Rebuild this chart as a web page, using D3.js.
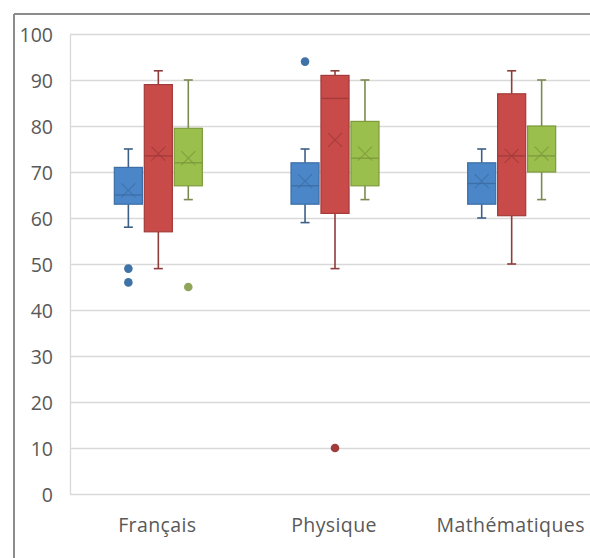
<!DOCTYPE html>
<html><head><meta charset="utf-8">
<script src="https://cdn.jsdelivr.net/npm/d3@7"></script>
<style>
html,body{margin:0;padding:0;background:#fff;}
svg{display:block;}
text{font-family:"Open Sans","Noto Sans",sans-serif;fill:#595959;}
</style></head>
<body>
<svg id="c" width="590" height="558"></svg>
<script>
const categories = ["Français", "Physique", "Mathématiques"];
const seriesNames = ["S1", "S2", "S3"];
// per series: [category] -> stats
const whiskerLow  = [[58, 59, 60], [49, 49, 50], [64, 64, 64]];
const q1Values    = [[63, 63, 63], [57, 61, 60.5], [67, 67, 70]];
const medians     = [[65, 67, 67.5], [73.5, 86, 73.5], [72, 73, 73.5]];
const q3Values    = [[71, 72, 72], [89, 91, 87], [79.5, 81, 80]];
const whiskerHigh = [[75, 75, 75], [92, 92, 92], [90, 90, 90]];
const means       = [[66, 68, 68], [74, 77, 73.5], [73, 74, 74]];
const outliers    = [[[49, 46], [94], []], [[], [10], []], [[45], [], []]];
const yTicks = [0, 10, 20, 30, 40, 50, 60, 70, 80, 90, 100];

const fills   = ["#4a86c8", "#c84b49", "#9bbf4c"];
const strokes = ["#3d6fa6", "#a23b39", "#7d9a3c"];
const whiskC  = ["#3e5f86", "#8e3d3b", "#7b8a52"];
const dotC    = ["#3f72a6", "#a03c3c", "#8fa65a"];

const svg = d3.select("#c");
// outer border
svg.append("line").attr("x1",14).attr("x2",590).attr("y1",14).attr("y2",14).attr("stroke","#8c8c8c").attr("stroke-width",2);
svg.append("line").attr("x1",14).attr("x2",14).attr("y1",14).attr("y2",558).attr("stroke","#8c8c8c").attr("stroke-width",2);

const y = d3.scaleLinear().domain([0,100]).range([494,34]);
const x = d3.scaleBand().domain(categories).range([70,600]).paddingInner(0).paddingOuter(0);
const sub = d3.scaleBand().domain(seriesNames).range([0, 89]).paddingInner(0.03);
const groupOffset = (x.bandwidth() - 89) / 2;

// gridlines
svg.append("g").selectAll("line").data(yTicks).join("line")
  .attr("x1",70).attr("x2",600).attr("y1",d=>y(d)+0.5).attr("y2",d=>y(d)+0.5)
  .attr("stroke","#d9d9d9").attr("stroke-width",1.3);
svg.append("line").attr("x1",70.5).attr("x2",70.5).attr("y1",y(100)).attr("y2",y(0)).attr("stroke","#d9d9d9").attr("stroke-width",1.3);

// y axis labels
const yAxis = d3.axisLeft(y).tickValues(yTicks).tickSize(0).tickPadding(0);
const ya = svg.append("g").attr("transform","translate(53,1)").call(yAxis);
ya.select(".domain").remove();
ya.selectAll("text").attr("font-size",19.5).style("fill","#595959").attr("font-family","Open Sans, Noto Sans, sans-serif").attr("dy","0.35em");

// x axis labels
const xAxis = d3.axisBottom(x).tickSize(0).tickPadding(0);
const xa = svg.append("g").attr("transform","translate(-1,518)").call(xAxis);
xa.select(".domain").remove();
xa.selectAll("text").attr("font-size",19.5).style("fill","#595959").style("letter-spacing","0.4px").attr("font-family","Open Sans, Noto Sans, sans-serif");

const g = svg.append("g");
seriesNames.forEach((s, si) => {
  categories.forEach((c, ci) => {
    const x0 = x(c) + groupOffset + sub(s);
    const w = sub.bandwidth();
    const cx = x0 + w/2;
    // whiskers
    g.append("line").attr("x1",cx).attr("x2",cx).attr("y1",y(whiskerHigh[si][ci])).attr("y2",y(q3Values[si][ci])).attr("stroke",whiskC[si]).attr("stroke-width",1.6);
    g.append("line").attr("x1",cx).attr("x2",cx).attr("y1",y(q1Values[si][ci])).attr("y2",y(whiskerLow[si][ci])).attr("stroke",whiskC[si]).attr("stroke-width",1.6);
    [whiskerHigh[si][ci], whiskerLow[si][ci]].forEach(v => {
      g.append("line").attr("x1",cx-4.5).attr("x2",cx+4.5).attr("y1",y(v)).attr("y2",y(v)).attr("stroke",whiskC[si]).attr("stroke-width",1.6);
    });
    // box
    g.append("rect").attr("x",x0+0.5).attr("width",w-1)
      .attr("y",y(q3Values[si][ci])).attr("height",y(q1Values[si][ci])-y(q3Values[si][ci]))
      .attr("fill",fills[si]).attr("stroke",strokes[si]).attr("stroke-width",1.2);
    // median
    g.append("line").attr("x1",x0+0.5).attr("x2",x0+w-0.5).attr("y1",y(medians[si][ci])).attr("y2",y(medians[si][ci])).attr("stroke",strokes[si]).attr("stroke-width",1.3);
    // mean X
    const my = y(means[si][ci]), r = 7;
    g.append("path").attr("d",`M${cx-r},${my-r}L${cx+r},${my+r}M${cx-r},${my+r}L${cx+r},${my-r}`)
      .attr("stroke",strokes[si]).attr("stroke-width",1.2).attr("fill","none").attr("opacity",0.8);
    // outliers
    outliers[si][ci].forEach(v => {
      g.append("circle").attr("cx",cx).attr("cy",y(v)).attr("r",4.3).attr("fill",dotC[si]);
    });
  });
});
</script>
</body></html>
